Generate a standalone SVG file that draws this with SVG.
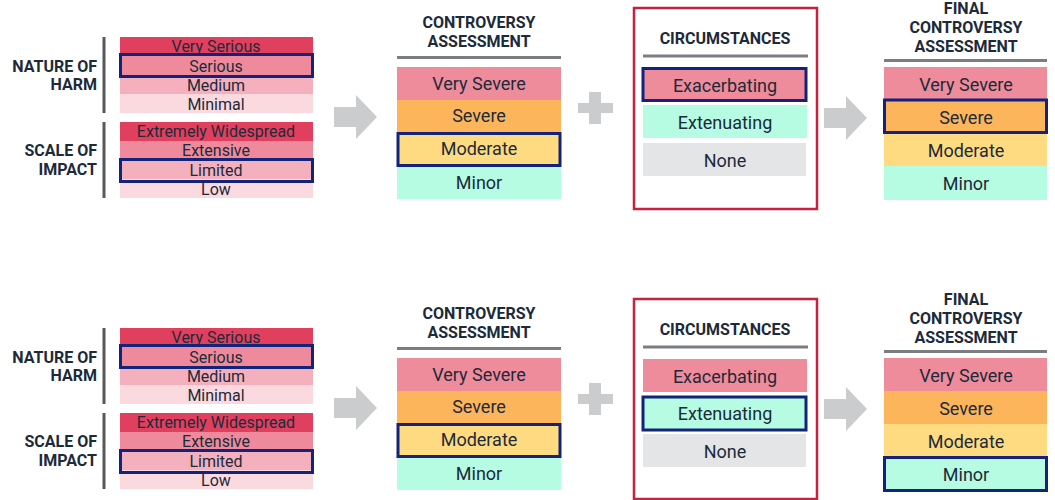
<svg xmlns="http://www.w3.org/2000/svg" width="1055" height="500" viewBox="0 0 1055 500">
<style>
.lbl{font-family:Roboto,"Liberation Sans",sans-serif;font-weight:700;font-size:16px;fill:#1c2a3a}
.sm{font-family:Roboto,"Liberation Sans",sans-serif;font-size:16px;fill:#1c2a3a;text-anchor:middle}
.lg{font-family:Roboto,"Liberation Sans",sans-serif;font-size:18px;fill:#1c2a3a;text-anchor:middle}
.hd{font-family:Roboto,"Liberation Sans",sans-serif;font-weight:700;font-size:16px;fill:#1c2a3a;text-anchor:middle}
.vbar{fill:#58595b}
.rule{stroke:#7b7e81;stroke-width:3}
.hl{fill:none;stroke:#13237a;stroke-width:3}
.c1{fill:#e0405e}.c2{fill:#ee8a9b}.c3{fill:#f4b0bd}.c4{fill:#fadadf}
.vs{fill:#ef8c9c}.sv{fill:#fdb55b}.md{fill:#fedb80}.mn{fill:#b5fce2}.nn{fill:#e4e5e6}
.shape{fill:#cbcccd}
.frame{fill:none;stroke:#c8203f;stroke-width:2.5}
</style>
<defs>
<polygon id="arrow" points="0,12 22,12 22,0 43,22 22,44 22,32 0,32"/>
<g id="plus"><rect x="0" y="11" width="35" height="10"/><rect x="11" y="0" width="12" height="32"/></g>
</defs>

<!-- TOP PANEL -->
<g id="top-harm">
  <rect class="vbar" x="102.5" y="37" width="3" height="76"/>
  <text class="lbl" x="97" y="72" text-anchor="end">NATURE OF</text>
  <text class="lbl" x="97" y="90" text-anchor="end">HARM</text>
  <rect class="c1" x="120" y="37" width="193" height="19"/>
  <rect class="c2" x="120" y="56" width="193" height="19"/>
  <rect class="c3" x="120" y="75" width="193" height="19"/>
  <rect class="c4" x="120" y="94" width="193" height="19"/>
  <text class="sm" x="216" y="52">Very Serious</text>
  <text class="sm" x="216" y="72">Serious</text>
  <text class="sm" x="216" y="91">Medium</text>
  <text class="sm" x="216" y="110">Minimal</text>
  <rect class="hl" x="120.5" y="54.5" width="192" height="22"/>
</g>
<g id="top-scale">
  <rect class="vbar" x="102.5" y="122" width="3" height="76"/>
  <text class="lbl" x="97" y="156" text-anchor="end">SCALE OF</text>
  <text class="lbl" x="97" y="175" text-anchor="end">IMPACT</text>
  <rect class="c1" x="120" y="122" width="193" height="19"/>
  <rect class="c2" x="120" y="141" width="193" height="19"/>
  <rect class="c3" x="120" y="160" width="193" height="19"/>
  <rect class="c4" x="120" y="179" width="193" height="19"/>
  <text class="sm" x="216" y="137">Extremely Widespread</text>
  <text class="sm" x="216" y="156">Extensive</text>
  <text class="sm" x="216" y="176">Limited</text>
  <text class="sm" x="216" y="195">Low</text>
  <rect class="hl" x="120.5" y="159.5" width="192" height="22"/>
</g>
<g id="top-assessment">
  <text class="hd" x="479" y="28">CONTROVERSY</text>
  <text class="hd" x="479" y="47">ASSESSMENT</text>
  <line class="rule" x1="397" y1="57.5" x2="561" y2="57.5"/>
  <rect class="vs" x="397" y="67" width="164" height="33"/>
  <rect class="sv" x="397" y="100" width="164" height="33"/>
  <rect class="md" x="397" y="133" width="164" height="33"/>
  <rect class="mn" x="397" y="166" width="164" height="33"/>
  <text class="lg" x="479" y="90">Very Severe</text>
  <text class="lg" x="479" y="122">Severe</text>
  <text class="lg" x="479" y="155">Moderate</text>
  <text class="lg" x="479" y="189">Minor</text>
  <rect class="hl" x="398" y="133.5" width="162" height="32"/>
</g>
<g id="top-circumstances">
  <rect class="frame" x="634" y="8" width="183" height="201"/>
  <text class="hd" x="725" y="44">CIRCUMSTANCES</text>
  <line class="rule" x1="643" y1="56" x2="808" y2="56"/>
  <rect class="vs" x="643" y="68" width="164" height="33"/>
  <rect class="mn" x="643" y="105" width="164" height="33"/>
  <rect class="nn" x="643" y="143" width="163" height="33"/>
  <text class="lg" x="725" y="92">Exacerbating</text>
  <text class="lg" x="725" y="129">Extenuating</text>
  <text class="lg" x="725" y="167">None</text>
  <rect class="hl" x="643" y="68.5" width="163" height="32"/>
</g>
<g id="top-final">
  <text class="hd" x="966" y="14">FINAL</text>
  <text class="hd" x="966" y="33">CONTROVERSY</text>
  <text class="hd" x="966" y="52">ASSESSMENT</text>
  <line class="rule" x1="884" y1="60.5" x2="1047" y2="60.5"/>
  <rect class="vs" x="884" y="67" width="163" height="33"/>
  <rect class="sv" x="884" y="100" width="163" height="33"/>
  <rect class="md" x="884" y="133" width="163" height="33"/>
  <rect class="mn" x="884" y="166" width="163" height="34"/>
  <text class="lg" x="966" y="91">Very Severe</text>
  <text class="lg" x="966" y="124">Severe</text>
  <text class="lg" x="966" y="157">Moderate</text>
  <text class="lg" x="966" y="190">Minor</text>
  <rect class="hl" x="884.5" y="100" width="162" height="32.5"/>
</g>

<!-- BOTTOM PANEL -->
<g transform="translate(0,291)">
<g id="bottom-harm">
  <rect class="vbar" x="102.5" y="37" width="3" height="76"/>
  <text class="lbl" x="97" y="72" text-anchor="end">NATURE OF</text>
  <text class="lbl" x="97" y="90" text-anchor="end">HARM</text>
  <rect class="c1" x="120" y="37" width="193" height="19"/>
  <rect class="c2" x="120" y="56" width="193" height="19"/>
  <rect class="c3" x="120" y="75" width="193" height="19"/>
  <rect class="c4" x="120" y="94" width="193" height="19"/>
  <text class="sm" x="216" y="52">Very Serious</text>
  <text class="sm" x="216" y="72">Serious</text>
  <text class="sm" x="216" y="91">Medium</text>
  <text class="sm" x="216" y="110">Minimal</text>
  <rect class="hl" x="120.5" y="54.5" width="192" height="22"/>
</g>
<g id="bottom-scale">
  <rect class="vbar" x="102.5" y="122" width="3" height="76"/>
  <text class="lbl" x="97" y="156" text-anchor="end">SCALE OF</text>
  <text class="lbl" x="97" y="175" text-anchor="end">IMPACT</text>
  <rect class="c1" x="120" y="122" width="193" height="19"/>
  <rect class="c2" x="120" y="141" width="193" height="19"/>
  <rect class="c3" x="120" y="160" width="193" height="19"/>
  <rect class="c4" x="120" y="179" width="193" height="19"/>
  <text class="sm" x="216" y="137">Extremely Widespread</text>
  <text class="sm" x="216" y="156">Extensive</text>
  <text class="sm" x="216" y="176">Limited</text>
  <text class="sm" x="216" y="195">Low</text>
  <rect class="hl" x="120.5" y="159.5" width="192" height="22"/>
</g>
<g id="bottom-assessment">
  <text class="hd" x="479" y="28">CONTROVERSY</text>
  <text class="hd" x="479" y="47">ASSESSMENT</text>
  <line class="rule" x1="397" y1="57.5" x2="561" y2="57.5"/>
  <rect class="vs" x="397" y="67" width="164" height="33"/>
  <rect class="sv" x="397" y="100" width="164" height="33"/>
  <rect class="md" x="397" y="133" width="164" height="33"/>
  <rect class="mn" x="397" y="166" width="164" height="33"/>
  <text class="lg" x="479" y="90">Very Severe</text>
  <text class="lg" x="479" y="122">Severe</text>
  <text class="lg" x="479" y="155">Moderate</text>
  <text class="lg" x="479" y="189">Minor</text>
  <rect class="hl" x="398" y="133.5" width="162" height="32"/>
</g>
<g id="bottom-circumstances">
  <rect class="frame" x="634" y="8" width="183" height="200"/>
  <text class="hd" x="725" y="44">CIRCUMSTANCES</text>
  <line class="rule" x1="643" y1="56" x2="808" y2="56"/>
  <rect class="vs" x="643" y="68" width="164" height="33"/>
  <rect class="mn" x="643" y="105" width="164" height="33"/>
  <rect class="nn" x="643" y="143" width="163" height="33"/>
  <text class="lg" x="725" y="92">Exacerbating</text>
  <text class="lg" x="725" y="129">Extenuating</text>
  <text class="lg" x="725" y="167">None</text>
  <rect class="hl" x="643" y="106" width="163" height="33"/>
</g>
<g id="bottom-final">
  <text class="hd" x="966" y="14">FINAL</text>
  <text class="hd" x="966" y="33">CONTROVERSY</text>
  <text class="hd" x="966" y="52">ASSESSMENT</text>
  <line class="rule" x1="884" y1="60.5" x2="1047" y2="60.5"/>
  <rect class="vs" x="884" y="67" width="163" height="33"/>
  <rect class="sv" x="884" y="100" width="163" height="33"/>
  <rect class="md" x="884" y="133" width="163" height="33"/>
  <rect class="mn" x="884" y="166" width="163" height="34"/>
  <text class="lg" x="966" y="91">Very Severe</text>
  <text class="lg" x="966" y="124">Severe</text>
  <text class="lg" x="966" y="157">Moderate</text>
  <text class="lg" x="966" y="190">Minor</text>
  <rect class="hl" x="884.5" y="166.5" width="162" height="33"/>
</g>
</g>

<!-- CONNECTORS -->
<g id="connectors" class="shape">
  <use href="#arrow" x="334" y="95"/>
  <use href="#plus" x="578" y="92"/>
  <use href="#arrow" x="824" y="96"/>
  <use href="#arrow" x="334" y="386"/>
  <use href="#plus" x="578" y="383"/>
  <use href="#arrow" x="824" y="387"/>
</g>
</svg>
